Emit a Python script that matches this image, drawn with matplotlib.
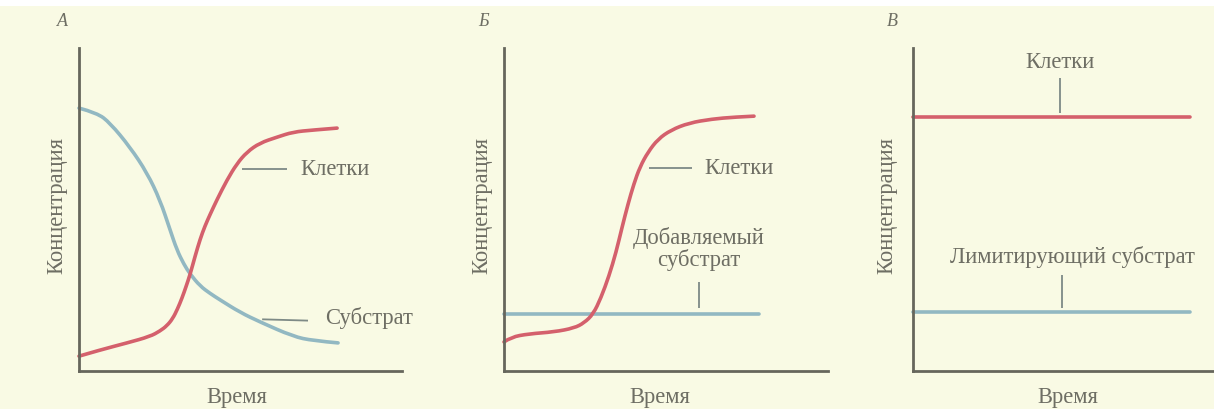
import matplotlib
matplotlib.use("Agg")
import matplotlib.pyplot as plt
from matplotlib.patches import Rectangle, PathPatch
from matplotlib.path import Path

# ---- data (time, concentration in arbitrary units) ----
# Panel А: batch culture
a_substrate_t = [0.00, 0.56, 0.96, 1.58, 2.11, 2.51, 2.82, 3.03, 3.25, 3.44, 3.75, 4.06, 4.37, 4.98, 5.60, 6.63, 7.24, 8.02]
a_substrate_c = [8.14, 7.99, 7.68, 6.93, 6.13, 5.29, 4.37, 3.75, 3.30, 3.00, 2.63, 2.40, 2.20, 1.82, 1.52, 1.07, 0.94, 0.87]
a_cells_t = [0.00, 0.65, 1.49, 2.20, 2.51, 2.72, 2.90, 3.05, 3.19, 3.31, 3.44, 3.59, 3.75, 3.90, 4.06, 4.27,
             4.58, 4.89, 5.20, 5.60, 6.13, 6.63, 7.24, 7.99]
a_cells_c = [0.46, 0.65, 0.87, 1.07, 1.24, 1.40, 1.62, 1.92, 2.26, 2.60, 2.99, 3.54, 4.08, 4.49, 4.85, 5.30,
             5.91, 6.42, 6.78, 7.06, 7.24, 7.40, 7.46, 7.52]

# Panel Б: fed-batch culture
b_cells_t = [0.00, 0.22, 0.77, 1.55, 2.17, 2.48, 2.76, 3.00, 3.25, 3.47, 3.65, 3.84, 4.02, 4.21,
             4.46, 4.77, 5.17, 5.73, 6.44, 7.12, 7.74]
b_cells_c = [0.90, 1.05, 1.15, 1.21, 1.33, 1.49, 1.76, 2.26, 2.94, 3.68, 4.43, 5.17, 5.79, 6.32,
             6.78, 7.18, 7.46, 7.68, 7.80, 7.86, 7.89]
b_substrate_t = [0.00, 7.89]
b_substrate_c = [1.76, 1.76]

# Panel В: continuous culture (steady state)
c_cells_t = [0.00, 8.58]
c_cells_c = [7.86, 7.86]
c_substrate_t = [0.00, 8.58]
c_substrate_c = [1.83, 1.83]

panel_letters = ["А", "Б", "В"]
x_label = "Время"
y_label = "Концентрация"

# ---- style ----
BG = "#F9FAE4"
RED = "#D4606C"
BLUE = "#92B8C2"
AXIS = "#66665C"
TEXT = "#6E6E64"
SERIF = ["Liberation Serif", "DejaVu Serif"]
FS = 16.3

W, H = 1214, 409
fig = plt.figure(figsize=(W / 100, H / 100), dpi=100, facecolor=BG)
fig.patches.append(Rectangle((0, 1 - 6 / H), 1, 6 / H, transform=fig.transFigure,
                             facecolor="white", edgecolor="none", zorder=0))

UNIT = 32.3  # pixels per data unit
AX_TOP, AX_BOTTOM = 48, 371


def make_axes(left_px, right_px):
    w = right_px - left_px
    ax = fig.add_axes([left_px / W, (H - AX_BOTTOM) / H, w / W, (AX_BOTTOM - AX_TOP) / H])
    ax.set_xlim(0, w / UNIT)
    ax.set_ylim(0, (AX_BOTTOM - AX_TOP) / UNIT)
    ax.patch.set_alpha(0)
    for s in ("top", "right"):
        ax.spines[s].set_visible(False)
    for s in ("left", "bottom"):
        ax.spines[s].set_color(AXIS)
        ax.spines[s].set_linewidth(2.0)
    ax.set_xticks([])
    ax.set_yticks([])
    return ax


def smooth_curve(ax, xs, ys, color):
    """Draw a curve through the points as a chain of quadratic Bezier segments."""
    pts = list(zip(xs, ys))
    verts = [pts[0]]
    codes = [Path.MOVETO]
    for i in range(1, len(pts) - 1):
        mid = ((pts[i][0] + pts[i + 1][0]) / 2, (pts[i][1] + pts[i + 1][1]) / 2)
        if i == len(pts) - 2:
            mid = pts[-1]
        verts += [pts[i], mid]
        codes += [Path.CURVE3, Path.CURVE3]
    if len(pts) == 2:
        verts.append(pts[1])
        codes.append(Path.LINETO)
    patch = PathPatch(Path(verts, codes), facecolor="none", edgecolor=color, lw=2.6,
                      capstyle="round", joinstyle="round", clip_on=False)
    ax.add_patch(patch)


def fig_text(xp, yp, s, **kw):
    fig.text(xp / W, 1 - yp / H, s, color=TEXT, family=SERIF, **kw)


def leader(ax, xs, ys):
    ax.plot(xs, ys, color="#7E8A86", lw=1.3, solid_capstyle="butt", clip_on=False)


# Panel А
ax_a = make_axes(79, 402)
smooth_curve(ax_a, a_substrate_t, a_substrate_c, BLUE)
smooth_curve(ax_a, a_cells_t, a_cells_c, RED)
leader(ax_a, [5.05, 6.44], [6.25, 6.25])
ax_a.text(6.84, 6.25, "Клетки", color=TEXT, family=SERIF, fontsize=FS, ha="left", va="center")
leader(ax_a, [5.67, 7.09], [1.60, 1.56])
ax_a.text(7.62, 1.64, "Субстрат", color=TEXT, family=SERIF, fontsize=FS, ha="left", va="center")

# Panel Б
ax_b = make_axes(504, 828)
smooth_curve(ax_b, b_substrate_t, b_substrate_c, BLUE)
smooth_curve(ax_b, b_cells_t, b_cells_c, RED)
leader(ax_b, [4.49, 5.82], [6.28, 6.28])
ax_b.text(6.19, 6.28, "Клетки", color=TEXT, family=SERIF, fontsize=FS, ha="left", va="center")
ax_b.text(6.04, 3.78, "Добавляемый\nсубстрат", color=TEXT, family=SERIF, fontsize=FS,
          ha="center", va="center", linespacing=1.0)
leader(ax_b, [6.04, 6.04], [2.76, 1.95])

# Panel В
ax_c = make_axes(913, 1214)
smooth_curve(ax_c, c_cells_t, c_cells_c, RED)
smooth_curve(ax_c, c_substrate_t, c_substrate_c, BLUE)
ax_c.text(4.55, 9.54, "Клетки", color=TEXT, family=SERIF, fontsize=FS, ha="center", va="center")
leader(ax_c, [4.55, 4.55], [9.07, 7.99])
ax_c.text(4.95, 3.53, "Лимитирующий субстрат", color=TEXT, family=SERIF, fontsize=FS,
          ha="center", va="center")
leader(ax_c, [4.61, 4.61], [2.97, 1.95])

# Axis titles and panel letters
for xc_y, xc_x, letter_x, letter in zip((57, 482, 887), (237, 660, 1068), (62, 484, 892), panel_letters):
    fig_text(xc_y, 205, y_label, rotation=90, fontsize=FS, ha="center", va="center")
    fig_text(xc_x, 397, x_label, fontsize=FS, ha="center", va="center")
    fig_text(letter_x, 22, letter, fontsize=13, style="italic", ha="center", va="center")

fig.savefig("out.png", dpi=100, facecolor=BG)
